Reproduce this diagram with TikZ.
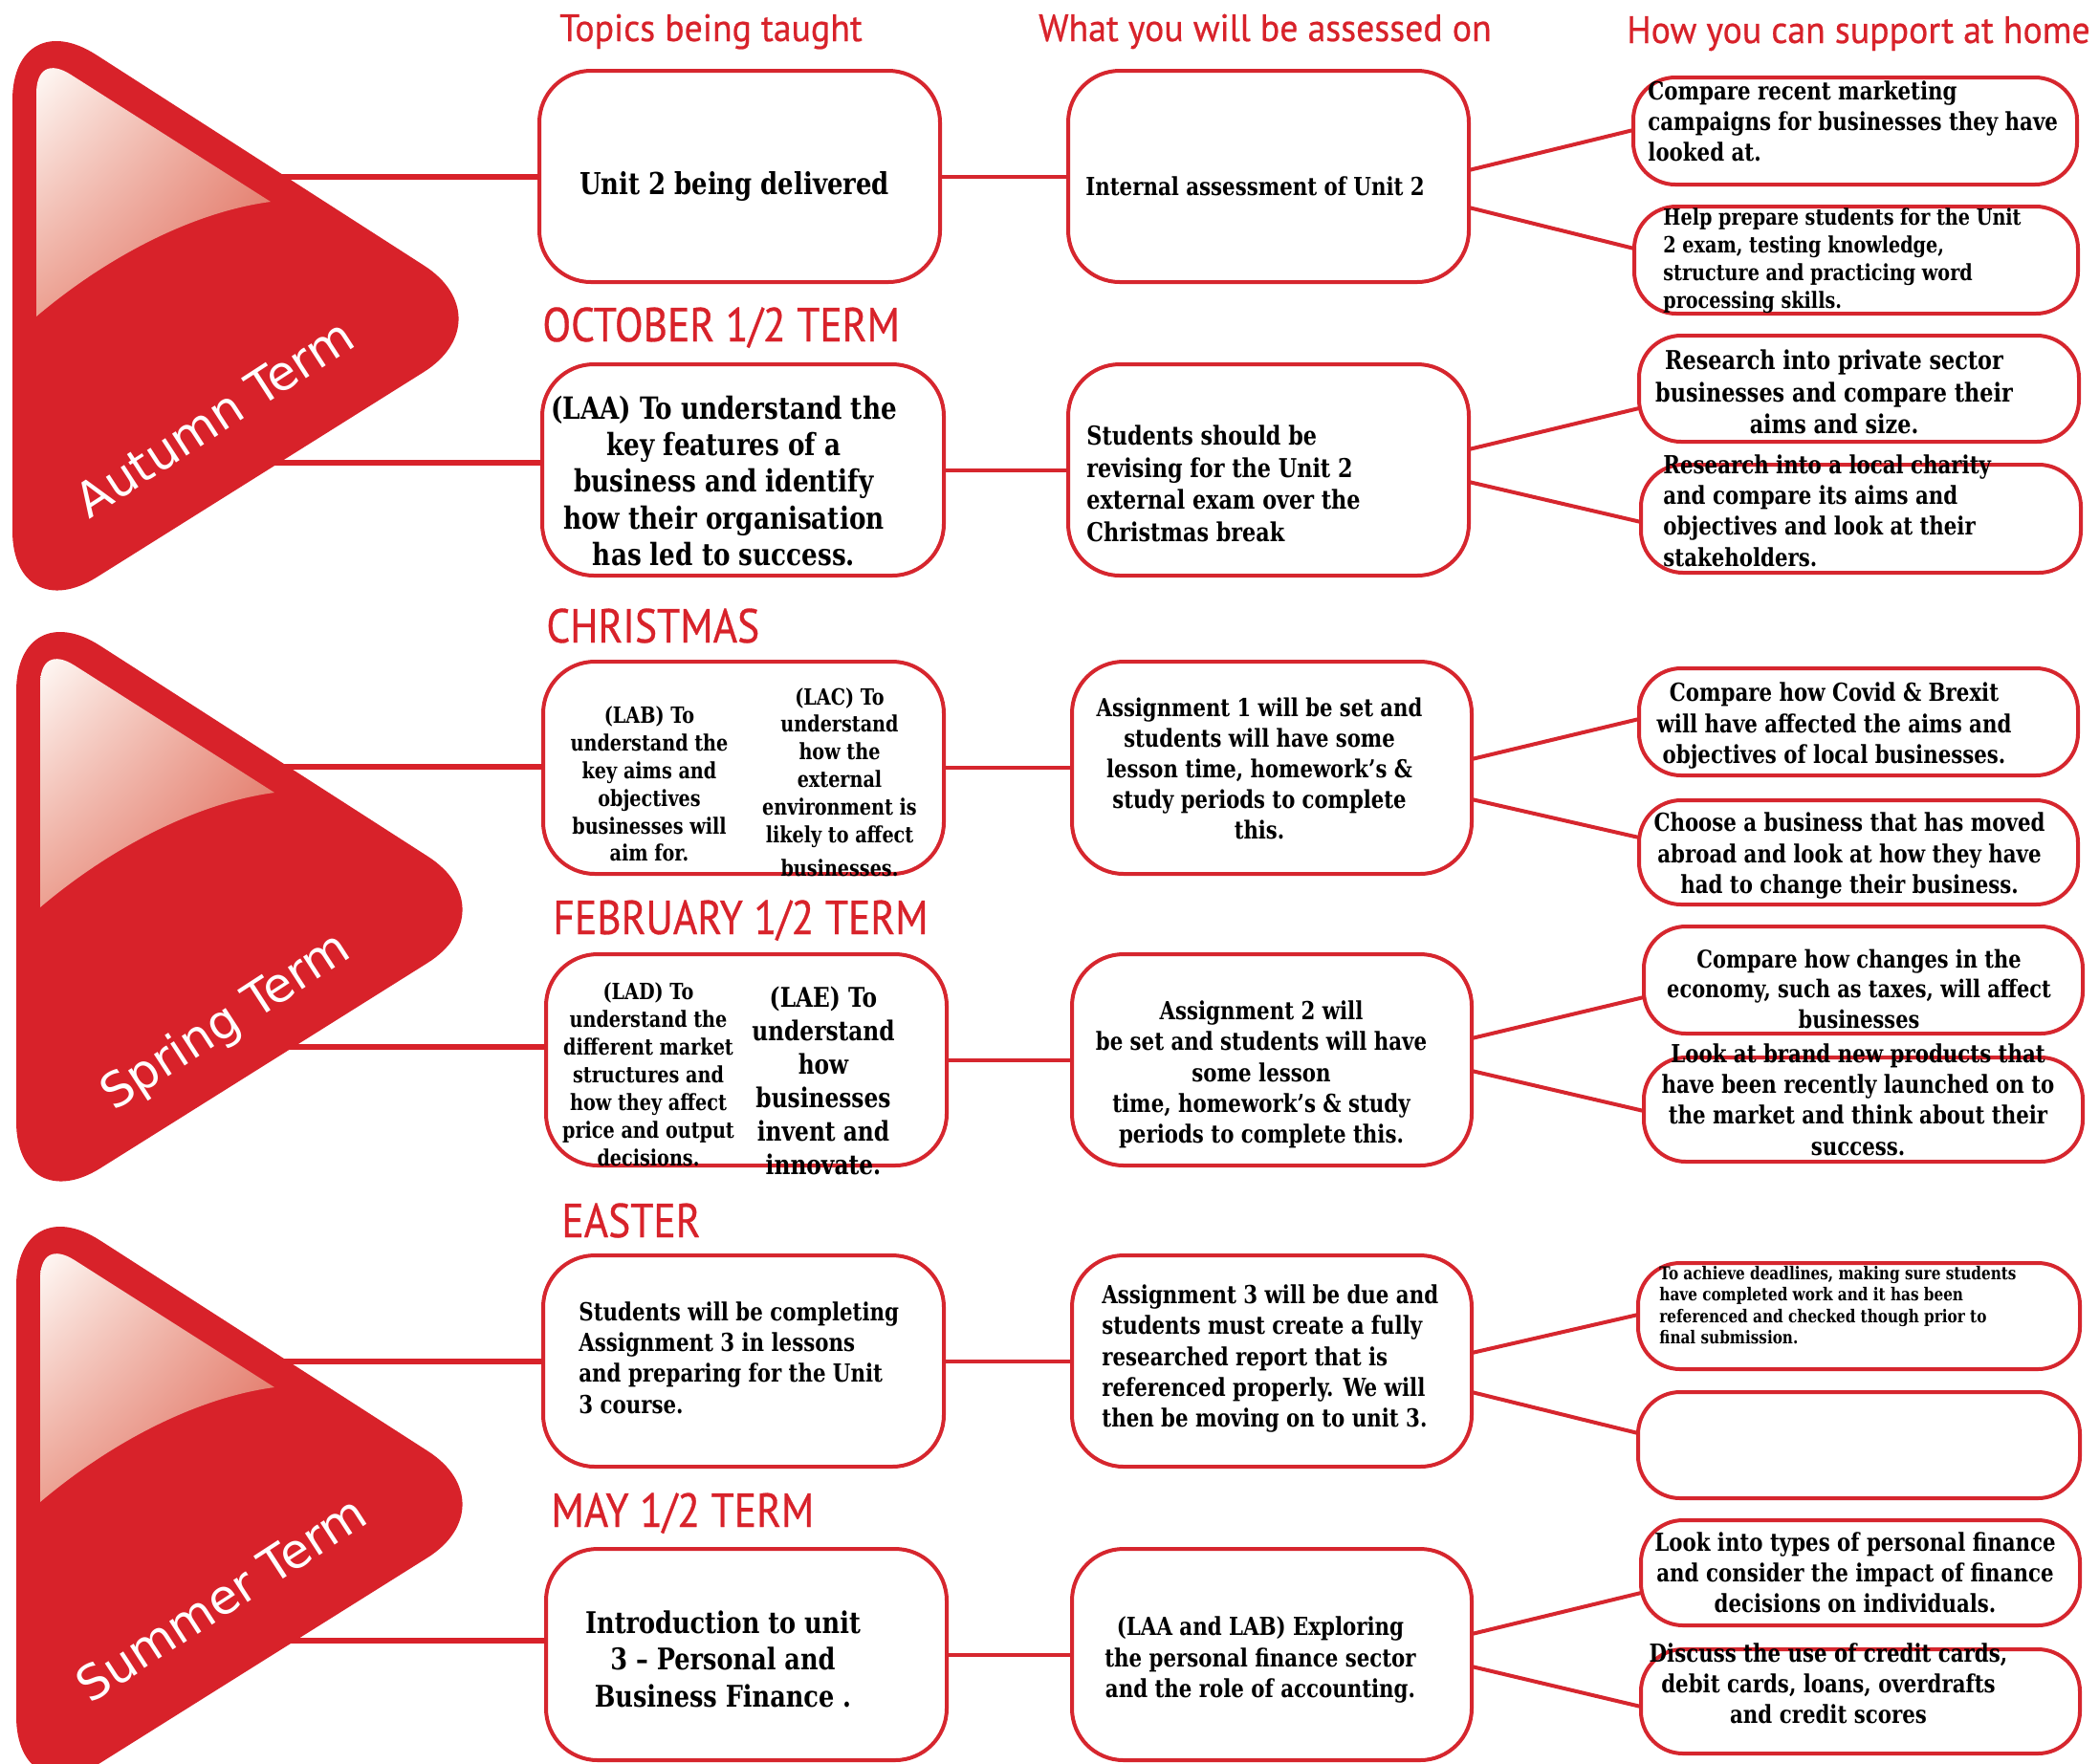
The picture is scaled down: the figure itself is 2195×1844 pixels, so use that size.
\documentclass[tikz,border=0pt]{standalone}
\usepackage{fontspec}
\setmainfont[FakeStretch=0.82]{DejaVu Serif}
\newfontfamily\headfont[FakeStretch=0.945,FakeBold=0.6]{PT Sans}
\newfontfamily\termfont[FakeStretch=0.87,FakeBold=0.6]{PT Sans}
\newfontfamily\trifont{DejaVu Sans}
\usetikzlibrary{calc,shadings}
\definecolor{tred}{RGB}{216,34,42}
\definecolor{bred}{RGB}{214,38,46}
\definecolor{hlA}{RGB}{255,252,249}
\definecolor{hlB}{RGB}{236,160,143}
\definecolor{hlC}{RGB}{236,160,145}
\definecolor{hlD}{RGB}{222,104,90}
\newcommand\F[2]{\fontsize{#1pt}{#2pt}\selectfont}
\tikzset{
  box/.style={draw=bred,line width=2pt,rounded corners=27pt,fill=white,inner sep=0pt,outer sep=0pt},
  sbox/.style={box,rounded corners=22pt},
  conn/.style={draw=bred,line width=2pt},
  tline/.style={draw=tred,line width=3pt},
  txt/.style={inner sep=0pt,text=black},
  head/.style={inner sep=0pt,text=tred},
  trilabel/.style={inner sep=0pt,text=white,rotate=33,font=\trifont\F{25}{30}},
}
\newcommand\bx[6][box]{\node[#1,minimum width={(#5-#3)*0.5pt},minimum height={(#6-#4)*0.5pt}] (#2) at ({(#3+#5)/2},{(#4+#6)/2}) {};}
\newcommand\termtri[6]{%
 \begin{scope}[shift={(#1,#2)}]
  \fill[tred,rounded corners=52pt] (13,330) -- (13,1) -- (531,334) -- (13,659) -- cycle;
  \shade[upper left=hlA,upper right=hlB,lower left=hlC,lower right=hlD]
    (38,331) -- (38,98) .. controls (38,72) and (52,64) .. (74,78) -- (283,211)
    .. controls (200,222) and (110,270) .. (38,331) -- cycle;
  \node[trilabel] (#3) at (#5,#6) {#4};
 \end{scope}}
\begin{document}
\begin{tikzpicture}[x=0.5pt,y=-0.5pt]
\useasboundingbox (0,0) rectangle (2195,1844);
\clip (0,0) rectangle (2195,1844);
\fill[white] (0,0) rectangle (2195,1844);
% column 1
\bx{A1}{564}{74}{983}{295}
\bx{A2}{567}{381}{987}{602}
\bx{S1}{568}{692}{987}{914}
\bx{S2}{571}{998}{990}{1219}
\bx{U1}{568}{1313}{987}{1534}
\bx{U2}{571}{1620}{990}{1841}
% column 2
\bx{B1}{1117}{74}{1536}{295}
\bx{B2}{1117}{381}{1536}{602}
\bx{B3}{1121}{692}{1539}{914}
\bx{B4}{1121}{998}{1539}{1219}
\bx{B5}{1121}{1313}{1539}{1534}
\bx{B6}{1121}{1620}{1539}{1841}
% column 3
\bx[sbox]{C1}{1708}{81}{2172}{193}
\bx[sbox]{C2}{1709}{216}{2173}{328}
\bx[sbox]{C3}{1714}{351}{2174}{462}
\bx[sbox]{C4}{1716}{486}{2176}{599}
\bx[sbox]{C5}{1714}{699}{2173}{811}
\bx[sbox]{C6}{1714}{837}{2173}{946}
\bx[sbox]{C7}{1719}{969}{2178}{1081}
\bx[sbox]{C8}{1719}{1106}{2178}{1215}
\bx[sbox]{C9}{1713}{1321}{2175}{1432}
\bx[sbox]{C10}{1713}{1456}{2175}{1567}
\bx[sbox]{C11}{1716}{1590}{2175}{1700}
\bx[sbox]{C12}{1716}{1725}{2175}{1834}
% lines from the term triangles
\coordinate (ta1) at (250,185);
\coordinate (ta2) at (250,484);
\coordinate (ts1) at (250,802);
\coordinate (ts2) at (250,1095);
\coordinate (tu1) at (250,1424);
\coordinate (tu2) at (250,1716);
\draw[tline] (ta1) -- (ta1 -| A1.west);
\draw[tline] (ta2) -- (ta2 -| A2.west);
\draw[tline] (ts1) -- (ts1 -| S1.west);
\draw[tline] (ts2) -- (ts2 -| S2.west);
\draw[tline] (tu1) -- (tu1 -| U1.west);
\draw[tline] (tu2) -- (tu2 -| U2.west);
% triangles
\termtri{0}{0}{tAut}{Autumn Term}{224}{437}
\termtri{4}{618}{tSpr}{Spring Term}{233}{452}
\termtri{4}{1240}{tSum}{Summer Term}{227}{432}
% connectors column 1 -> column 2
\draw[conn] (A1) -- (B1);
\draw[conn] (A2) -- (B2);
\draw[conn] (S1) -- (B3);
\draw[conn] (S2) -- (B4);
\draw[conn] (U1) -- (B5);
\draw[conn] (U2) -- (B6);
% connectors column 2 -> column 3
\draw[conn] ($(B1.east)+(0,-6.5)$) -- ($(C1.west)+(0,-1)$);
\draw[conn] ($(B1.east)+(0,32.5)$) -- ($(C2.west)+(0,-12)$);
\draw[conn] ($(B2.east)+(0,-21.5)$) -- ($(C3.west)+(0,20.5)$);
\draw[conn] ($(B2.east)+(0,12.5)$) -- ($(C4.west)+(0,3.5)$);
\draw[conn] ($(B3.east)+(0,-9)$) -- ($(C5.west)+(0,-3)$);
\draw[conn] ($(B3.east)+(0,33)$) -- ($(C6.west)+(0,-15.5)$);
\draw[conn] ($(B4.east)+(0,-22.5)$) -- ($(C7.west)+(0,18)$);
\draw[conn] ($(B4.east)+(0,11.5)$) -- ($(C8.west)+(0,1.5)$);
\draw[conn] ($(B5.east)+(0,-8.5)$) -- ($(C9.west)+(0,-1.5)$);
\draw[conn] ($(B5.east)+(0,32.5)$) -- ($(C10.west)+(0,-12.5)$);
\draw[conn] ($(B6.east)+(0,-21.5)$) -- ($(C11.west)+(0,21)$);
\draw[conn] ($(B6.east)+(0,12.5)$) -- ($(C12.west)+(0,5.5)$);
% headers
\node[head,anchor=base,font=\headfont\F{20}{24}] (h1) at (743.5,43) {Topics being taught};
\node[head,anchor=base,font=\headfont\F{20}{24}] (h2) at (1323,43) {What you will be assessed on};
\node[head,anchor=base,font=\headfont\F{20}{24}] (h3) at (1943.5,45) {How you can support at home};
% term labels
\node[head,anchor=base west,font=\termfont\F{25}{30}] (oct) at (567,357) {OCTOBER 1/2 TERM};
\node[head,anchor=base west,font=\termfont\F{25}{30}] (xmas) at (571,672) {CHRISTMAS};
\node[head,anchor=base west,font=\termfont\F{25}{30}] (feb) at (578,977) {FEBRUARY 1/2 TERM};
\node[head,anchor=base west,font=\termfont\F{25}{30}] (east) at (587,1294) {EASTER};
\node[head,anchor=base west,font=\termfont\F{25}{30}] (may) at (576,1597) {MAY 1/2 TERM};
% texts column 1
\node[txt,font=\bfseries\F{15.8}{19}] (tA1) at (768,195) {Unit 2 being delivered};
\node[txt,align=center,font=\bfseries\F{16}{19.1}] (tA2) at (757,503) {(LAA) To understand the\\key features of a\\business and identify\\how their organisation\\has led to success.};
\node[txt,align=center,font=\bfseries\F{11.7}{14.45}] (tS1a) at (679,820) {(LAB) To\\understand the\\key aims and\\objectives\\businesses will\\aim for.};
\node[txt,align=center,font=\bfseries\F{11.7}{14.45}] (tS1b) at (878,818) {(LAC) To\\understand\\how the\\external\\environment is\\likely to affect\\[3pt]businesses.};
\node[txt,align=center,font=\bfseries\F{11.7}{14.5}] (tS2a) at (678,1124) {(LAD) To\\understand the\\different market\\structures and\\how they affect\\price and output\\decisions.};
\node[txt,align=center,font=\bfseries\F{14.2}{17.5}] (tS2b) at (861,1130) {(LAE) To\\understand\\how\\businesses\\invent and\\innovate.};
\node[txt,anchor=west,align=left,font=\bfseries\F{13}{16.1}] (tU1) at (605,1420) {Students will be completing\\Assignment 3 in lessons\\and preparing for the Unit\\3 course.};
\node[txt,align=center,font=\bfseries\F{15.6}{19.25}] (tU2) at (756,1735) {Introduction to unit\\3 -- Personal and\\Business Finance .};
% texts column 2
\node[txt,anchor=west,font=\bfseries\F{13}{15.6}] (tB1) at (1135,195) {Internal assessment of Unit 2};
\node[txt,anchor=west,align=left,font=\bfseries\F{13.6}{16.8}] (tB2) at (1136,506) {Students should be\\revising for the Unit 2\\external exam over the\\Christmas break};
\node[txt,align=center,font=\bfseries\F{12.9}{15.95}] (tB3) at (1317,804) {Assignment 1 will be set and\\students will have some\\lesson time, homework's \&\\study periods to complete\\this.};
\node[txt,align=center,font=\bfseries\F{13}{16.1}] (tB4) at (1319,1124) {Assignment 2 will\\be set and students will have\\some lesson\\time, homework's \& study\\periods to complete this.};
\node[txt,anchor=west,align=left,font=\bfseries\F{13}{16.1}] (tB5) at (1152,1421) {Assignment 3 will be due and\\students must create a fully\\researched report that is\\referenced properly. We will\\then be moving on to unit 3.};
\node[txt,align=center,font=\bfseries\F{13}{16.1}] (tB6) at (1318,1736) {(LAA and LAB) Exploring\\the personal finance sector\\and the role of accounting.};
% texts column 3
\node[txt,anchor=west,align=left,font=\bfseries\F{13}{16.1}] (tC1) at (1723,127) {Compare recent marketing\\campaigns for businesses they have\\looked at.};
\node[txt,anchor=west,align=left,font=\bfseries\F{11.7}{14.5}] (tC2) at (1739,273) {Help prepare students for the Unit\\2 exam, testing knowledge,\\structure and practicing word\\processing skills.};
\node[txt,align=center,font=\bfseries\F{13.6}{16.8}] (tC3) at (1918,410) {Research into private sector\\businesses and compare their\\aims and size.};
\node[txt,anchor=west,align=left,font=\bfseries\F{13}{16.1}] (tC4) at (1739,534) {Research into a local charity\\and compare its aims and\\objectives and look at their\\stakeholders.};
\node[txt,align=center,font=\bfseries\F{13}{16.1}] (tC5) at (1918,759) {Compare how Covid \& Brexit\\will have affected the aims and\\objectives of local businesses.};
\node[txt,align=center,font=\bfseries\F{13}{16.1}] (tC6) at (1934,895) {Choose a business that has moved\\abroad and look at how they have\\had to change their business.};
\node[txt,align=center,font=\bfseries\F{12.75}{15.75}] (tC7) at (1944,1034) {Compare how changes in the\\economy, such as taxes, will affect\\businesses};
\node[txt,align=center,font=\bfseries\F{13}{16.1}] (tC8) at (1943,1150) {Look at brand new products that\\have been recently launched on to\\the market and think about their\\success.};
\node[txt,anchor=west,align=left,font=\bfseries\F{9.3}{11.15}] (tC9) at (1735,1365) {To achieve deadlines, making sure students\\have completed work and it has been\\referenced and checked though prior to\\final submission.};
\node[txt,align=center,font=\bfseries\F{13}{16.1}] (tC11) at (1940,1645) {Look into types of personal finance\\and consider the impact of finance\\decisions on individuals.};
\node[txt,align=center,font=\bfseries\F{13}{16.1}] (tC12) at (1912,1761) {Discuss the use of credit cards,\\debit cards, loans, overdrafts\\and credit scores};
\end{tikzpicture}
\end{document}
